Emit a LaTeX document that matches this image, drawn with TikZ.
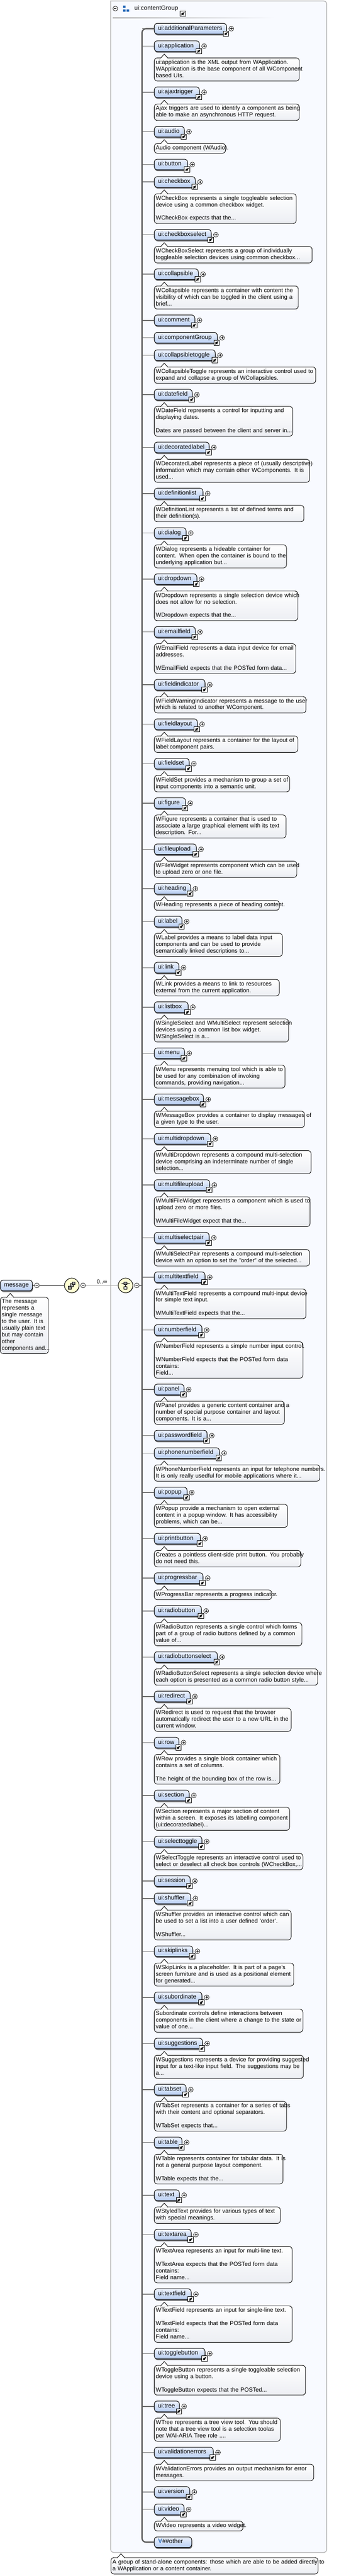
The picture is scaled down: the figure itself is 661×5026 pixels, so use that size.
\documentclass[tikz,border=0pt]{standalone}
\usepackage{fontspec}
\setmainfont{Liberation Sans}
\newfontfamily\symfont{DejaVu Sans}
\usetikzlibrary{positioning,shadows}
\definecolor{panelfill}{HTML}{F8FAFF}
\definecolor{panelline}{HTML}{B8B8B8}
\definecolor{elemtop}{HTML}{EEF3FD}
\definecolor{elembottom}{HTML}{B8CEF2}
\definecolor{notebottom}{HTML}{ECEEF3}
\definecolor{trunkgray}{HTML}{5A5A5A}
\definecolor{branchgray}{HTML}{707070}
\definecolor{bubblefill}{HTML}{FFFFD2}
\definecolor{groupblue}{HTML}{1C62B4}
\tikzset{
	boxtext/.style={align=left, outer sep=0pt, execute at begin node={\rightskip=-40pt plus 1fil\relax\hyphenpenalty=10000\strut}, execute at end node={\strut}},
	elementbox/.style={boxtext, draw, line width=1pt, rounded corners=6pt, top color=elemtop, bottom color=elembottom, drop shadow={shadow xshift=1pt, shadow yshift=-2.6pt, opacity=.55, fill=black}, inner xsep=7.5pt, inner ysep=3.85pt, font=\fontsize{11.9}{13}\selectfont},
	notebox/.style={boxtext, draw, line width=.9pt, rounded corners=6pt, top color=white, bottom color=notebottom, inner xsep=3pt, inner ysep=3pt, font=\fontsize{11.3}{13}\selectfont},
	afterelem/.style={below=13.3pt of #1.south west, anchor=north west},
	afternote/.style={below=11.65pt of #1.south west, anchor=north west},
	noteof/.style={below=12.65pt of #1.south west, anchor=north west},
	plusdot/.style={circle, draw, fill=white, line width=.7pt, minimum size=9.4pt, inner sep=0pt, path picture={\draw[line width=.5pt] ([xshift=-2.6pt]path picture bounding box.center) -- ([xshift=2.6pt]path picture bounding box.center) ([yshift=-2.6pt]path picture bounding box.center) -- ([yshift=2.6pt]path picture bounding box.center);}},
	minusdot/.style={circle, draw, fill=white, line width=.7pt, minimum size=9.4pt, inner sep=0pt, path picture={\draw[line width=.5pt] ([xshift=-2.6pt]path picture bounding box.center) -- ([xshift=2.6pt]path picture bounding box.center);}},
	linkbox/.style={rectangle, draw, fill=white, line width=1pt, minimum size=10.4pt, inner sep=0pt},
	linkarrow/.style={-latex, line width=1.4pt},
	branchline/.style={draw=branchgray, line width=1.5pt},
	trunkline/.style={draw=trunkgray, line width=2.5pt, rounded corners=8pt},
	bubble/.style={circle, draw, line width=1pt, fill=bubblefill, minimum size=28.5pt, inner sep=0pt, drop shadow={shadow xshift=.8pt, shadow yshift=-1pt, opacity=.4, fill=black}},
	iconsquare/.style={draw, line width=.6pt, fill=black!40},
}
\newcommand{\xsdelem}[4]{
	\node (#1) [elementbox, text width=\dimexpr#4pt-15pt\relax, #2] {#3};
	\node (#1-plus) [plusdot, right=4.2pt of #1.east] {};
	\node (#1-link) [linkbox] at ([xshift=-1pt,yshift=-9.7pt]#1.east) {};
	\draw[linkarrow] ([xshift=-2.9pt,yshift=-2.9pt]#1-link.center) -- ([xshift=3.6pt,yshift=3.6pt]#1-link.center);
	\draw[branchline] (trunk |- #1.west) -- (#1.west);
}
\newcommand{\xsdnote}[4]{
	\node (#1) [notebox, text width=\dimexpr#3pt-6pt\relax, #2] {#4};
	\draw[line width=.9pt, preaction={fill=white}] ([xshift=12.2pt,yshift=-.6pt]#1.north west) -- ++(7.3pt,8.1pt) -- ++(7.3pt,-8.1pt);
}

\begin{document}
\begin{tikzpicture}[x=1pt,y=-1pt]
	\useasboundingbox (0,0) rectangle (661,5026);
	\coordinate (trunk) at (277,0);

	\draw[panelline, line width=1.5pt, fill=panelfill] (216,2) [rounded corners=6pt] -- (637.5,2) -- (637.5,4980) -- (216,4980) [sharp corners] -- cycle;
	\node (groupminus) [minusdot] at (225,16.7) {};
	\fill[groupblue] (240,11) rectangle (245,15.4) (240,18.4) rectangle (245,22.8) (247,18.4) rectangle (252,22.8);
	\node (contentGroup) [anchor=west, inner sep=0pt, font=\fontsize{12}{13}\selectfont] at (262,16) {ui:contentGroup};
	\node (contentGroup-link) [linkbox] at (357,26.7) {};
	\draw[linkarrow] ([xshift=-2.9pt,yshift=-2.9pt]contentGroup-link.center) -- ([xshift=3.6pt,yshift=3.6pt]contentGroup-link.center);
	\shade[left color=black!25, right color=panelfill] (220,34) rectangle (536,36);

	\node (message) [elementbox, text width=\dimexpr62.7pt-15pt\relax, anchor=west] at (.5,2508) {message};
	\xsdnote{messagenote}{noteof=message}{94}{The message\\represents a\\single message\\to the user. It is\\usually plain text\\but may contain\\other\\components and...}
	\node (messageminus) [minusdot] at (72,2508) {};
	\node (sequencebubble) [bubble] at (140,2508) {};
	\node (sequenceminus) [minusdot] at (162,2508) {};
	\node (choicebubble) [bubble] at (245,2508) {};
	\node (choiceminus) [minusdot] at (267,2508) {};
	\node (repeatlabel) [inner sep=0pt, font=\fontsize{11}{13}\selectfont] at (199,2501) {0..∞};
	\draw[line width=.9pt] (message) -- (messageminus);
	\draw[branchline] (messageminus) -- (sequencebubble);
	\draw[draw=black!35, line width=.9pt] (sequenceminus) -- (choicebubble);
	\draw[branchline] (choiceminus) -- (trunk |- choiceminus);

	\draw[line width=.6pt] (134,2511.5) -- (147,2505);
	\draw[iconsquare] (133,2509) rectangle (139,2515);
	\draw[iconsquare] (137,2504.5) rectangle (143,2510.5);
	\draw[iconsquare] (141,2501) rectangle (146.5,2506.5);
	\draw[line width=.6pt] (237,2504) -- (253,2504) (245,2504) -- (245,2510);
	\draw[iconsquare] (242,2501.5) rectangle (248,2506.5);
	\draw[line width=.8pt, fill=white] (242,2510) rectangle (248,2515.5);

	\xsdelem{additionalParameters}{anchor=west, at={(301,56)}}{ui:additionalParameters}{141}
	\xsdelem{application}{afterelem=additionalParameters}{ui:application}{88}
	\xsdnote{applicationnote}{noteof=application}{283}{ui:application is the XML output from WApplication.\\WApplication is the base component of all WComponent\\based UIs.}
	\xsdelem{ajaxtrigger}{afternote=applicationnote}{ui:ajaxtrigger}{88}
	\xsdnote{ajaxtriggernote}{noteof=ajaxtrigger}{283}{Ajax triggers are used to identify a component as being\\able to make an asynchronous HTTP request.}
	\xsdelem{audio}{afternote=ajaxtriggernote}{ui:audio}{58.5}
	\xsdnote{audionote}{noteof=audio}{139}{Audio component (WAudio).}
	\xsdelem{button}{afternote=audionote}{ui:button}{65}
	\xsdelem{checkbox}{afterelem=button}{ui:checkbox}{80}
	\xsdnote{checkboxnote}{noteof=checkbox}{277}{WCheckBox represents a single toggleable selection\\device using a common checkbox widget.\\[13pt]WCheckBox expects that the...}
	\xsdelem{checkboxselect}{afternote=checkboxnote}{ui:checkboxselect}{111}
	\xsdnote{checkboxselectnote}{noteof=checkboxselect}{308}{WCheckBoxSelect represents a group of individually\\toggleable selection devices using common checkbox...}
	\xsdelem{collapsible}{afternote=checkboxselectnote}{ui:collapsible}{86}
	\xsdnote{collapsiblenote}{noteof=collapsible}{281}{WCollapsible represents a container with content the\\visibility of which can be toggled in the client using a\\brief...}
	\xsdelem{comment}{afternote=collapsiblenote}{ui:comment}{79}
	\xsdelem{componentGroup}{afterelem=comment}{ui:componentGroup}{123}
	\xsdelem{collapsibletoggle}{afterelem=componentGroup}{ui:collapsibletoggle}{119}
	\xsdnote{collapsibletogglenote}{noteof=collapsibletoggle}{315}{WCollapsibleToggle represents an interactive control used to\\expand and collapse a group of WCollapsibles.}
	\xsdelem{datefield}{afternote=collapsibletogglenote}{ui:datefield}{74}
	\xsdnote{datefieldnote}{noteof=datefield}{270}{WDateField represents a control for inputting and\\displaying dates.\\[13pt]Dates are passed between the client and server in...}
	\xsdelem{decoratedlabel}{afternote=datefieldnote}{ui:decoratedlabel}{107}
	\xsdnote{decoratedlabelnote}{noteof=decoratedlabel}{303}{WDecoratedLabel represents a piece of (usually descriptive)\\information which may contain other WComponents. It is\\used...}
	\xsdelem{definitionlist}{afternote=decoratedlabelnote}{ui:definitionlist}{95}
	\xsdnote{definitionlistnote}{noteof=definitionlist}{292}{WDefinitionList represents a list of defined terms and\\their definition(s).}
	\xsdelem{dialog}{afternote=definitionlistnote}{ui:dialog}{62}
	\xsdnote{dialognote}{noteof=dialog}{258}{WDialog represents a hideable container for\\content. When open the container is bound to the\\underlying application but...}
	\xsdelem{dropdown}{afternote=dialognote}{ui:dropdown}{83}
	\xsdnote{dropdownnote}{noteof=dropdown}{280}{WDropdown represents a single selection device which\\does not allow for no selection.\\[13pt]WDropdown expects that the...}
	\xsdelem{emailfield}{afternote=dropdownnote}{ui:emailfield}{80}
	\xsdnote{emailfieldnote}{noteof=emailfield}{276}{WEmailField represents a data input device for email\\addresses.\\[13pt]WEmailField expects that the POSTed form data...}
	\xsdelem{fieldindicator}{afternote=emailfieldnote}{ui:fieldindicator}{99}
	\xsdnote{fieldindicatornote}{noteof=fieldindicator}{296}{WFieldWarningIndicator represents a message to the user\\which is related to another WComponent.}
	\xsdelem{fieldlayout}{afternote=fieldindicatornote}{ui:fieldlayout}{84}
	\xsdnote{fieldlayoutnote}{noteof=fieldlayout}{280}{WFieldLayout represents a container for the layout of\\label:component pairs.}
	\xsdelem{fieldset}{afternote=fieldlayoutnote}{ui:fieldset}{68}
	\xsdnote{fieldsetnote}{noteof=fieldset}{264}{WFieldSet provides a mechanism to group a set of\\input components into a semantic unit.}
	\xsdelem{figure}{afternote=fieldsetnote}{ui:figure}{61}
	\xsdnote{figurenote}{noteof=figure}{257}{WFigure represents a container that is used to\\associate a large graphical element with its text\\description. For...}
	\xsdelem{fileupload}{afternote=figurenote}{ui:fileupload}{82}
	\xsdnote{fileuploadnote}{noteof=fileupload}{278}{WFileWidget represents component which can be used\\to upload zero or one file.}
	\xsdelem{heading}{afternote=fileuploadnote}{ui:heading}{71}
	\xsdnote{headingnote}{noteof=heading}{244}{WHeading represents a piece of heading content.}
	\xsdelem{label}{afternote=headingnote}{ui:label}{54}
	\xsdnote{labelnote}{noteof=label}{250}{WLabel provides a means to label data input\\components and can be used to provide\\semantically linked descriptions to...}
	\xsdelem{link}{afternote=labelnote}{ui:link}{48}
	\xsdnote{linknote}{noteof=link}{244}{WLink provides a means to link to resources\\external from the current application.}
	\xsdelem{listbox}{afternote=linknote}{ui:listbox}{66}
	\xsdnote{listboxnote}{noteof=listbox}{262}{WSingleSelect and WMultiSelect represent selection\\devices using a common list box widget.\\WSingleSelect is a...}
	\xsdelem{menu}{afternote=listboxnote}{ui:menu}{59}
	\xsdnote{menunote}{noteof=menu}{255}{WMenu represents menuing tool which is able to\\be used for any combination of invoking\\commands, providing navigation...}
	\xsdelem{messagebox}{afternote=menunote}{ui:messagebox}{96}
	\xsdnote{messageboxnote}{noteof=messagebox}{293}{WMessageBox provides a container to display messages of\\a given type to the user.}
	\xsdelem{multidropdown}{afternote=messageboxnote}{ui:multidropdown}{110}
	\xsdnote{multidropdownnote}{noteof=multidropdown}{306}{WMultiDropdown represents a compound multi-selection\\device comprising an indeterminate number of single\\selection...}
	\xsdelem{multifileupload}{afternote=multidropdownnote}{ui:multifileupload}{108}
	\xsdnote{multifileuploadnote}{noteof=multifileupload}{304}{WMultiFileWidget represents a component which is used to\\upload zero or more files.\\[13pt]WMultiFileWidget expect that the...}
	\xsdelem{multiselectpair}{afternote=multifileuploadnote}{ui:multiselectpair}{107}
	\xsdnote{multiselectpairnote}{noteof=multiselectpair}{303}{WMultiSelectPair represents a compound multi-selection\\device with an option to set the "order" of the selected...}
	\xsdelem{multitextfield}{afternote=multiselectpairnote}{ui:multitextfield}{99}
	\xsdnote{multitextfieldnote}{noteof=multitextfield}{296}{WMultiTextField represents a compound multi-input device\\for simple text input.\\[13pt]WMultiTextField expects that the...}
	\xsdelem{numberfield}{afternote=multitextfieldnote}{ui:numberfield}{93}
	\xsdnote{numberfieldnote}{noteof=numberfield}{290}{WNumberField represents a simple number input control.\\[13pt]WNumberField expects that the POSTed form data\\contains:\\Field...}
	\xsdelem{panel}{afternote=numberfieldnote}{ui:panel}{58}
	\xsdnote{panelnote}{noteof=panel}{254}{WPanel provides a generic content container and a\\number of special purpose container and layout\\components. It is a...}
	\xsdelem{passwordfield}{afternote=panelnote}{ui:passwordfield}{103}
	\xsdelem{phonenumberfield}{afterelem=passwordfield}{ui:phonenumberfield}{127}
	\xsdnote{phonenumberfieldnote}{noteof=phonenumberfield}{323}{WPhoneNumberField represents an input for telephone numbers.\\It is only really usedful for mobile applications where it...}
	\xsdelem{popup}{afternote=phonenumberfieldnote}{ui:popup}{64}
	\xsdnote{popupnote}{noteof=popup}{260}{WPopup provide a mechanism to open external\\content in a popup window. It has accessibility\\problems, which can be...}
	\xsdelem{printbutton}{afternote=popupnote}{ui:printbutton}{90}
	\xsdnote{printbuttonnote}{noteof=printbutton}{286}{Creates a pointless client-side print button. You probably\\do not need this.}
	\xsdelem{progressbar}{afternote=printbuttonnote}{ui:progressbar}{95}
	\xsdnote{progressbarnote}{noteof=progressbar}{229}{WProgressBar represents a progress indicator.}
	\xsdelem{radiobutton}{afternote=progressbarnote}{ui:radiobutton}{92}
	\xsdnote{radiobuttonnote}{noteof=radiobutton}{288}{WRadioButton represents a single control which forms\\part of a group of radio buttons defined by a common\\value of...}
	\xsdelem{radiobuttonselect}{afternote=radiobuttonnote}{ui:radiobuttonselect}{123}
	\xsdnote{radiobuttonselectnote}{noteof=radiobuttonselect}{319}{WRadioButtonSelect represents a single selection device where\\each option is presented as a common radio button style...}
	\xsdelem{redirect}{afternote=radiobuttonselectnote}{ui:redirect}{70}
	\xsdnote{redirectnote}{noteof=redirect}{267}{WRedirect is used to request that the browser\\automatically redirect the user to a new URL in the\\current window.}
	\xsdelem{row}{afternote=redirectnote}{ui:row}{48}
	\xsdnote{rownote}{noteof=row}{245}{WRow provides a single block container which\\contains a set of columns.\\[13pt]The height of the bounding box of the row is...}
	\xsdelem{section}{afternote=rownote}{ui:section}{68}
	\xsdnote{sectionnote}{noteof=section}{264}{WSection represents a major section of content\\within a screen. It exposes its labelling component\\(ui:decoratedlabel)...}
	\xsdelem{selecttoggle}{afternote=sectionnote}{ui:selecttoggle}{93}
	\xsdnote{selecttogglenote}{noteof=selecttoggle}{290}{WSelectToggle represents an interactive control used to\\select or deselect all check box controls (WCheckBox,...}
	\xsdelem{session}{afternote=selecttogglenote}{ui:session}{70}
	\xsdelem{shuffler}{afterelem=session}{ui:shuffler}{71}
	\xsdnote{shufflernote}{noteof=shuffler}{267}{WShuffler provides an interactive control which can\\be used to set a list into a user defined 'order'.\\[13pt]WShuffler...}
	\xsdelem{skiplinks}{afternote=shufflernote}{ui:skiplinks}{75}
	\xsdnote{skiplinksnote}{noteof=skiplinks}{272}{WSkipLinks is a placeholder. It is part of a page's\\screen furniture and is used as a positional element\\for generated...}
	\xsdelem{subordinate}{afternote=skiplinksnote}{ui:subordinate}{93}
	\xsdnote{subordinatenote}{noteof=subordinate}{290}{Subordinate controls define interactions between\\components in the client where a change to the state or\\value of one...}
	\xsdelem{suggestions}{afternote=subordinatenote}{ui:suggestions}{94}
	\xsdnote{suggestionsnote}{noteof=suggestions}{291}{WSuggestions represents a device for providing suggested\\input for a text-like input field. The suggestions may be\\a...}
	\xsdelem{tabset}{afternote=suggestionsnote}{ui:tabset}{62}
	\xsdnote{tabsetnote}{noteof=tabset}{258}{WTabSet represents a container for a series of tabs\\with their content and optional separators.\\[13pt]WTabSet expects that...}
	\xsdelem{table}{afternote=tabsetnote}{ui:table}{54}
	\xsdnote{tablenote}{noteof=table}{251}{WTable represents container for tabular data. It is\\not a general purpose layout component.\\[13pt]WTable expects that the...}
	\xsdelem{text}{afternote=tablenote}{ui:text}{49}
	\xsdnote{textnote}{noteof=text}{246}{WStyledText provides for various types of text\\with special meanings.}
	\xsdelem{textarea}{afternote=textnote}{ui:textarea}{72}
	\xsdnote{textareanote}{noteof=textarea}{269}{WTextArea represents an input for multi-line text.\\[13pt]WTextArea expects that the POSTed form data\\contains:\\Field name...}
	\xsdelem{textfield}{afternote=textareanote}{ui:textfield}{72}
	\xsdnote{textfieldnote}{noteof=textfield}{269}{WTextField represents an input for single-line text.\\[13pt]WTextField expects that the POSTed form data\\contains:\\Field name...}
	\xsdelem{togglebutton}{afternote=textfieldnote}{ui:togglebutton}{99}
	\xsdnote{togglebuttonnote}{noteof=togglebutton}{295}{WToggleButton represents a single toggleable selection\\device using a button.\\[13pt]WToggleButton expects that the POSTed...}
	\xsdelem{tree}{afternote=togglebuttonnote}{ui:tree}{49}
	\xsdnote{treenote}{noteof=tree}{246}{WTree represents a tree view tool. You should\\note that a tree view tool is a selection toolas\\per WAI-ARIA Tree role ....}
	\xsdelem{validationerrors}{afternote=treenote}{ui:validationerrors}{115}
	\xsdnote{validationerrorsnote}{noteof=validationerrors}{311}{WValidationErrors provides an output mechanism for error\\messages.}
	\xsdelem{version}{afternote=validationerrorsnote}{ui:version}{69}
	\xsdelem{video}{afterelem=version}{ui:video}{58}
	\xsdnote{videonote}{noteof=video}{173}{WVideo represents a video widget.}
	\node (other) [elementbox, text width=\dimexpr73pt-15pt\relax, afternote=videonote] {{\symfont\textcolor{groupblue}{∀}}\#\#other};

	\draw[trunkline] (additionalParameters.west) -| (trunk |- other.west) -- (other.west);

	\xsdnote{contentGroupnote}{anchor=north west, at={(216.5,4990)}}{404}{A group of stand-alone components: those which are able to be added directly to\\a WApplication or a content container.}
\end{tikzpicture}
\end{document}
